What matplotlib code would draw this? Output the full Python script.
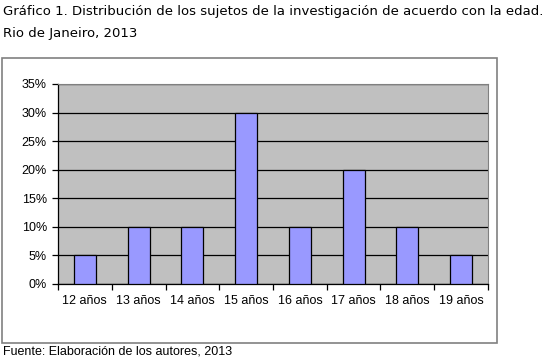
import matplotlib.pyplot as plt
from matplotlib.patches import Rectangle
from matplotlib.ticker import FixedLocator

edades = ["12 años", "13 años", "14 años", "15 años",
          "16 años", "17 años", "18 años", "19 años"]
porcentajes = [5, 10, 10, 30, 10, 20, 10, 5]
yticks = [0, 5, 10, 15, 20, 25, 30, 35]

W, H = 546, 362
fig = plt.figure(figsize=(W / 100, H / 100), dpi=100)
fig.patch.set_facecolor("white")

# outer chart frame
fig.patches.append(Rectangle((2 / W, 1 - 343 / H), 495 / W, 285 / H,
                             transform=fig.transFigure, facecolor="white",
                             edgecolor="#808080", linewidth=1.2, zorder=-5))

ax = fig.add_axes([58 / W, 1 - 284 / H, 430 / W, 200 / H])
ax.set_facecolor("#c0c0c0")
ax.bar(range(len(edades)), porcentajes, width=0.41, color="#9999ff",
       edgecolor="black", linewidth=0.9, zorder=3)

ax.set_xlim(-0.5, len(edades) - 0.5)
ax.set_ylim(0, 35)
ax.set_yticks(yticks)
ax.set_yticklabels([f"{v}%" for v in yticks], fontfamily="Liberation Sans",
                   fontsize=9)
ax.yaxis.grid(True, color="black", linewidth=0.9, zorder=1)
ax.set_axisbelow(True)

ax.set_xticks(range(len(edades)))
ax.set_xticklabels(edades, fontfamily="Liberation Sans", fontsize=9)
ax.xaxis.set_minor_locator(FixedLocator([i - 0.5 for i in range(len(edades) + 1)]))
ax.tick_params(axis="x", which="major", length=0, pad=8)
ax.tick_params(axis="x", which="minor", length=4, width=0.9, direction="out")
ax.tick_params(axis="y", length=4, width=0.9, direction="out", pad=4)

for side in ("top", "right"):
    ax.spines[side].set_color("#808080")
for side in ("left", "bottom"):
    ax.spines[side].set_color("black")
    ax.spines[side].set_linewidth(0.9)

fig.text(3 / W, 1 - 12 / H,
         "Gráfico 1. Distribución de los sujetos de la investigación de acuerdo con la edad.",
         fontfamily="DejaVu Sans", fontsize=9.5, va="center", ha="left")
fig.text(3 / W, 1 - 33 / H, "Rio de Janeiro, 2013",
         fontfamily="DejaVu Sans", fontsize=9.5, va="center", ha="left")
fig.text(3 / W, 1 - 352 / H, "Fuente: Elaboración de los autores, 2013",
         fontfamily="Liberation Sans", fontsize=9, va="center", ha="left")

fig.savefig("out.png", dpi=100)
